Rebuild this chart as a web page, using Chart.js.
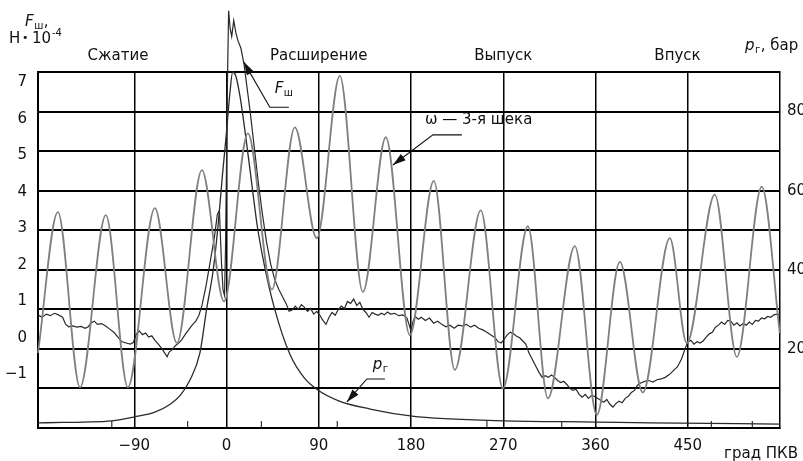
<!DOCTYPE html>
<html lang="ru">
<head>
  <meta charset="UTF-8" />
  <title>Fш, ω и pг по углу ПКВ</title>
  <script src="https://cdn.jsdelivr.net/npm/chart.js"></script>
  <style>
    html, body { margin: 0; padding: 0; background: #fff; }
    canvas { display: block; }
  </style>
</head>
<body>
  <canvas id="chart" width="803" height="461"></canvas>

  <script>
    // axes
    const angleTicks = [-90, 0, 90, 180, 270, 360, 450];
    const forceGrid = [-2, -1, 0, 1, 2, 3, 4, 5, 6, 7];
    const forceLabels = [-1, 0, 1, 2, 3, 4, 5, 6, 7];
    const pressureTicks = [20, 40, 60, 80];

    const phaseNames = ["Сжатие", "Расширение", "Выпуск", "Впуск"];
    const phaseCenters = [-106, 90, 270, 440];

    // ω — 3-я щека (peaks and troughs)
    const omegaAngle = [-184, -164.6, -143, -117.8, -96.3, -70, -48.5, -24.1, -2.5, 20.8,
      44.2, 66.6, 88, 110.5, 133, 155.4, 178.8, 202.2, 222.7, 248,
      269.6, 294, 313.5, 339.8, 361.3, 383.7, 406.1, 432.5, 449, 476.4,
      497.9, 522.2, 539.8];
    const omegaValue = [-0.1, 3.46, -0.97, 3.38, -0.97, 3.56, 0.15, 4.52, 1.2, 5.45,
      1.5, 5.6, 2.8, 6.9, 1.44, 5.35, 0.35, 4.25, -0.53, 3.5,
      -1.0, 3.1, -1.25, 2.6, -1.67, 2.2, -1.1, 2.8, 0.15, 3.9,
      -0.2, 4.1, 0.4];

    // Fш, Н·10^-4
    const forceAngle = [
      -184, -180, -176, -172, -168, -164, -160, -157, -154, -150,
      -146, -142, -138, -135, -132, -129, -126, -122, -118, -114,
      -110, -106, -102, -98, -94, -91, -88, -85, -82, -79,
      -76, -73, -70, -66, -63, -60, -58, -56, -53, -50,
      -47, -44, -40, -36, -33, -30, -27, -24, -20, -16,
      -12, -9, -7, -5, -3.5, -2, -1, 0, 1, 2,
      3.5, 5, 7, 9, 11, 14, 17, 20, 23, 27,
      31, 35, 39, 43, 47, 51, 55, 58, 61, 64,
      67, 70, 73, 76, 79, 82, 85, 88, 91, 94,
      97, 100, 103, 106, 109, 112, 115, 118, 121, 124,
      127, 130, 133, 136, 139, 142, 145, 148, 151, 154,
      157, 160, 164, 168, 172, 176, 178, 180, 182, 184,
      187, 190, 194, 198, 202, 206, 210, 214, 218, 222,
      226, 230, 234, 238, 242, 246, 250, 254, 258, 262,
      265, 268, 271, 274, 277, 280, 283, 286, 289, 292,
      295, 298, 302, 305, 308, 311, 314, 317, 320, 323,
      326, 329, 332, 335, 338, 341, 344, 347, 350, 353,
      356, 359, 362, 365, 368, 371, 374, 377, 380, 383,
      386, 389, 392, 395, 398, 401, 404, 408, 412, 416,
      420, 424, 428, 432, 436, 440, 444, 448, 450, 453,
      456, 459, 462, 465, 468, 471, 474, 477, 480, 483,
      486, 489, 492, 495, 498, 501, 504, 507, 510, 513,
      516, 519, 522, 525, 528, 531, 534, 537, 540];
    const forceValue = [
      0.86, 0.80, 0.88, 0.84, 0.90, 0.86, 0.80, 0.62, 0.56, 0.58,
      0.55, 0.57, 0.52, 0.56, 0.66, 0.70, 0.62, 0.64, 0.58, 0.50,
      0.42, 0.30, 0.18, 0.15, 0.12, 0.16, 0.38, 0.45, 0.36, 0.40,
      0.30, 0.33, 0.22, 0.10, 0.00, -0.12, -0.20, -0.08, -0.02, 0.08,
      0.14, 0.22, 0.38, 0.52, 0.62, 0.70, 0.85, 1.10, 1.60, 2.20,
      2.80, 3.40, 3.50, 2.20, 1.50, 1.35, 2.60, 4.80, 7.00, 8.55,
      8.10, 7.90, 8.30, 8.00, 7.80, 7.60, 7.20, 6.60, 6.00, 5.10,
      4.20, 3.40, 2.70, 2.15, 1.75, 1.50, 1.30, 1.15, 0.95, 0.98,
      1.08, 1.00, 1.12, 1.05, 0.95, 1.02, 0.88, 0.95, 0.85, 0.72,
      0.62, 0.80, 0.92, 0.85, 1.00, 1.08, 1.02, 1.20, 1.15, 1.26,
      1.10, 1.18, 1.00, 0.92, 0.80, 0.92, 0.88, 0.85, 0.90, 0.86,
      0.93, 0.88, 0.90, 0.84, 0.86, 0.78, 0.62, 0.45, 0.70, 0.82,
      0.75, 0.80, 0.72, 0.78, 0.65, 0.70, 0.62, 0.56, 0.60, 0.52,
      0.60, 0.58, 0.62, 0.55, 0.60, 0.52, 0.48, 0.42, 0.35, 0.28,
      0.18, 0.15, 0.25, 0.36, 0.42, 0.38, 0.32, 0.28, 0.20, 0.12,
      -0.10, -0.25, -0.45, -0.60, -0.72, -0.68, -0.72, -0.66, -0.72, -0.80,
      -0.85, -0.82, -0.90, -1.00, -1.05, -1.02, -1.15, -1.22, -1.15, -1.25,
      -1.18, -1.20, -1.25, -1.30, -1.35, -1.28, -1.40, -1.47, -1.38, -1.32,
      -1.36, -1.25, -1.20, -1.10, -1.05, -0.92, -0.86, -0.82, -0.80, -0.84,
      -0.78, -0.76, -0.72, -0.65, -0.55, -0.45, -0.25, 0.05, 0.17, 0.22,
      0.12, 0.18, 0.15, 0.20, 0.30, 0.38, 0.42, 0.55, 0.60, 0.68,
      0.62, 0.72, 0.70, 0.60, 0.66, 0.58, 0.64, 0.60, 0.68, 0.62,
      0.72, 0.70, 0.78, 0.76, 0.82, 0.80, 0.86, 0.88, 0.86];

    // pг, бар
    const pAngle = [-184, -160, -140, -112, -90, -70, -55, -45, -36, -26,
      -19.5, -13, -8, -4, 0, 3, 6, 9, 13, 18,
      23, 30, 37, 47, 62, 76, 89, 110, 140, 181,
      218, 270, 360, 413, 540];
    const pValue = [1.3, 1.4, 1.5, 1.8, 2.8, 4.0, 6.0, 8.3, 12, 19,
      30, 40, 52, 64, 75, 84, 90, 89, 84, 75,
      65, 51, 41, 30, 18.5, 12.6, 9.6, 6.8, 4.8, 3.0,
      2.3, 1.8, 1.5, 1.3, 1.0];

    // small marks on the bottom axis
    const markAngle = [-112, -38, 34, 108, 254, 327, 473, 513];

    const FONT = '"DejaVu Sans", sans-serif';
    Chart.defaults.font.family = FONT;
    Chart.defaults.font.size = 15;
    Chart.defaults.color = "#111";

    const pts = (xs, ys) => xs.map((x, i) => ({ x, y: ys[i] }));
    const minus = v => (v < 0 ? "\u2212" + Math.abs(v) : String(v));

    // italic letter with a subscript, optional plain tail
    function subText(ctx, x, y, main, sub, tail) {
      ctx.font = "italic 15px " + FONT;
      ctx.fillText(main, x, y);
      let w = ctx.measureText(main).width;
      ctx.font = "10px " + FONT;
      ctx.fillText(sub, x + w + 0.5, y + 3);
      w += ctx.measureText(sub).width + 1;
      if (tail) {
        ctx.font = "15px " + FONT;
        ctx.fillText(tail, x + w, y);
      }
    }

    function leader(ctx, end, elbow, tip) {
      ctx.beginPath();
      ctx.moveTo(end[0], end[1]);
      ctx.lineTo(elbow[0], elbow[1]);
      ctx.lineTo(tip[0], tip[1]);
      ctx.stroke();
      const a = Math.atan2(tip[1] - elbow[1], tip[0] - elbow[0]);
      const L = 13, W = 4;
      ctx.beginPath();
      ctx.moveTo(tip[0], tip[1]);
      ctx.lineTo(tip[0] - L * Math.cos(a) + W * Math.sin(a), tip[1] - L * Math.sin(a) - W * Math.cos(a));
      ctx.lineTo(tip[0] - L * Math.cos(a) - W * Math.sin(a), tip[1] - L * Math.sin(a) + W * Math.cos(a));
      ctx.closePath();
      ctx.fill();
    }

    const textPlugin = {
      id: "texts",
      afterDraw(chart) {
        const { ctx, chartArea } = chart;
        const sx = chart.scales.x, sy = chart.scales.y;
        const P = (a, v) => [sx.getPixelForValue(a), sy.getPixelForValue(v)];
        ctx.save();
        ctx.fillStyle = "#111";
        ctx.strokeStyle = "#111";
        ctx.lineWidth = 1.1;
        ctx.textBaseline = "alphabetic";

        // axis titles
        ctx.textAlign = "left";
        subText(ctx, 25, 26, "F", "ш", ",");
        ctx.font = "15px " + FONT;
        ctx.fillText("Н", 9, 43);
        ctx.font = "11px " + FONT;
        ctx.fillText("•", 22, 41);
        ctx.font = "15px " + FONT;
        ctx.fillText("10", 32, 43);
        ctx.font = "10px " + FONT;
        ctx.fillText("-4", 52, 36);
        subText(ctx, 745, 50, "p", "г", ", бар");

        ctx.font = "15px " + FONT;
        ctx.textAlign = "right";
        ctx.fillText("град ПКВ", chartArea.right + 18, chartArea.bottom + 30);

        // stroke names
        ctx.textAlign = "center";
        phaseNames.forEach((name, i) => {
          ctx.fillText(name, sx.getPixelForValue(phaseCenters[i]), chartArea.top - 12);
        });

        // callouts
        ctx.textAlign = "left";
        let t = P(47, 6.47);
        subText(ctx, t[0], t[1], "F", "ш");
        leader(ctx, P(60.8, 6.11), P(42.2, 6.11), P(16.9, 7.25));

        t = P(193.5, 5.68);
        ctx.font = "15px " + FONT;
        ctx.fillText("ω — 3-я щека", t[0], t[1]);
        leader(ctx, P(229.6, 5.41), P(201.3, 5.41), P(162.3, 4.65));

        t = P(142.7, -0.51);
        subText(ctx, t[0], t[1], "p", "г");
        leader(ctx, P(154.5, -0.76), P(136.9, -0.76), P(117.4, -1.34));
        ctx.restore();
      }
    };

    new Chart(document.getElementById("chart"), {
      type: "line",
      data: {
        datasets: [
          {
            label: "ω — 3-я щека",
            data: pts(omegaAngle, omegaValue),
            yAxisID: "y",
            borderColor: "#808080",
            borderWidth: 1.8,
            pointRadius: 0,
            cubicInterpolationMode: "monotone",
            clip: false
          },
          {
            label: "Fш",
            data: pts(forceAngle, forceValue),
            yAxisID: "y",
            borderColor: "#2a2a2a",
            borderWidth: 1.2,
            pointRadius: 0,
            tension: 0,
            clip: false
          },
          {
            label: "pг",
            data: pts(pAngle, pValue),
            yAxisID: "yp",
            borderColor: "#2a2a2a",
            borderWidth: 1.3,
            pointRadius: 0,
            cubicInterpolationMode: "monotone",
            clip: false
          },
          {
            type: "scatter",
            label: "marks",
            data: markAngle.map(a => ({ x: a, y: -1.9 })),
            yAxisID: "y",
            pointStyle: "line",
            rotation: 90,
            pointRadius: 3,
            borderColor: "#333",
            borderWidth: 1.2
          }
        ]
      },
      options: {
        responsive: false,
        animation: false,
        layout: { padding: { top: 72, left: 0, right: 0, bottom: 0 } },
        plugins: { legend: { display: false }, tooltip: { enabled: false } },
        scales: {
          x: {
            type: "linear",
            position: "bottom",
            min: -184,
            max: 540,
            afterBuildTicks: axis => { axis.ticks = angleTicks.map(v => ({ value: v })); },
            afterFit: axis => { axis.height = 33; },
            grid: { color: "#000", lineWidth: 1.5, drawTicks: false },
            border: { color: "#000", width: 2 },
            ticks: { padding: 9, autoSkip: false, maxRotation: 0, callback: minus }
          },
          // grid lines for Fш
          y: {
            position: "left",
            weight: 0,
            min: -2,
            max: 7,
            afterBuildTicks: axis => { axis.ticks = forceGrid.map(v => ({ value: v })); },
            afterFit: axis => { axis.width = 0; },
            grid: { color: "#000", lineWidth: 2, drawTicks: false },
            border: { color: "#000", width: 2 },
            ticks: { display: false }
          },
          // printed Fш labels sit slightly off the grid in the original
          yLabels: {
            position: "left",
            weight: 1,
            min: -2.47,
            max: 7.28,
            afterBuildTicks: axis => { axis.ticks = forceLabels.map(v => ({ value: v })); },
            afterFit: axis => { axis.width = 38; },
            grid: { display: false, drawTicks: false },
            border: { display: false },
            ticks: { padding: 11, callback: minus }
          },
          yp: {
            position: "right",
            min: 0,
            max: 90,
            afterBuildTicks: axis => { axis.ticks = pressureTicks.map(v => ({ value: v })); },
            afterFit: axis => { axis.width = 23; },
            grid: { display: false, drawTicks: false },
            border: { color: "#000", width: 1.5 },
            ticks: { padding: 7 }
          }
        }
      },
      plugins: [textPlugin]
    });
  </script>
</body>
</html>
